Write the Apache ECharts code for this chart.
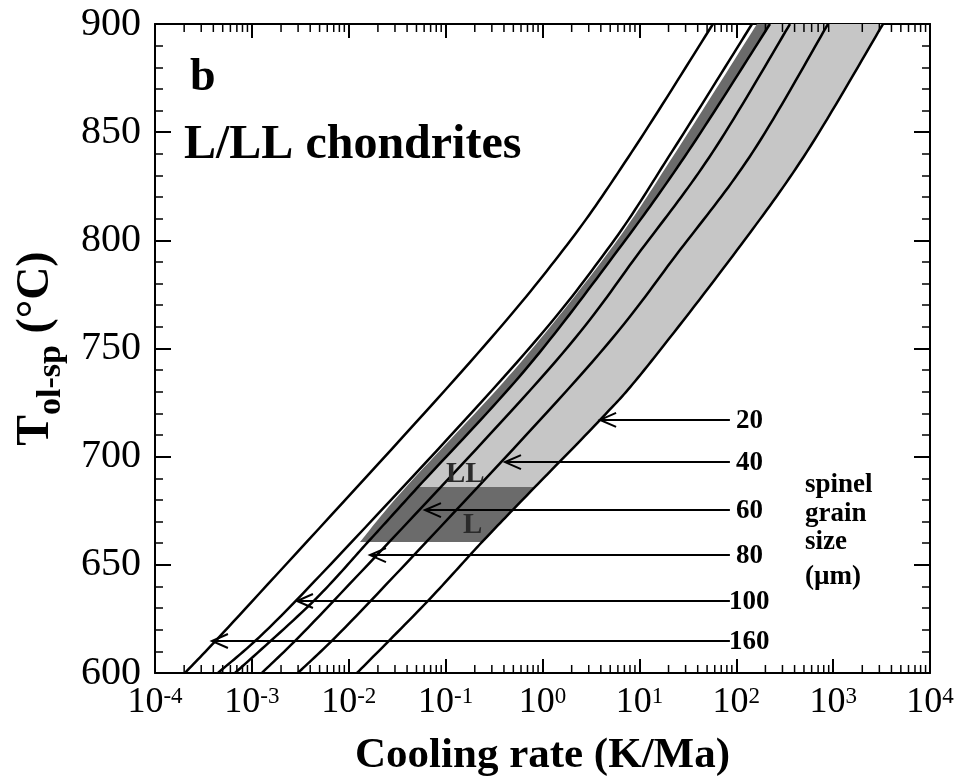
<!DOCTYPE html>
<html><head><meta charset="utf-8">
<script src="https://cdn.jsdelivr.net/npm/echarts@6/dist/echarts.min.js"></script>
<style>html,body{margin:0;padding:0;background:#fff}#c{width:961px;height:782px}</style>
</head><body><div id="c"></div>
<script>
// ---------- data (cooling rate in K/Ma, temperature in °C) ----------
const xTickExponents = [-4, -3, -2, -1, 0, 1, 2, 3, 4];
const yTicks = [600, 650, 700, 750, 800, 850, 900];
const grainSizes = ['20', '40', '60', '80', '100', '160'];

const T_levels = [600, 633, 740, 795.5, 841, 900];
const curve160 = [2.04e-4, 1.00e-3, 0.151, 1.63, 8.39, 57.5];
const curve100 = [4.47e-4, 2.79e-3, 0.462, 4.63, 21.7, 145.5];
const curve80T = [600, 633, 660.6, 686, 740, 795.5, 841, 900];
const curve80  = [6.70e-4, 4.28e-3, 0.01581, 0.0519, 0.659, 6.01, 31.8, 223];
const curve60  = [1.27e-3, 6.87e-3, 1.14, 10.4, 57.5, 359];
const curve40  = [2.99e-3, 0.01656, 2.75, 26.2, 149, 885];
const curve20T = [600, 633, 660.6, 686, 717, 740, 795.5, 841, 900];
const curve20  = [0.01216, 0.0646, 0.238, 0.837, 3.93, 11.2, 102, 537, 3273];

// left edge of the dark (LL) shaded strip
const darkEdgeT = [660.6, 686, 740, 795.5, 841, 900];
const darkEdge  = [0.01306, 0.0390, 0.508, 4.98, 23.9, 163.7];
const darkBoxT = [660.6, 686];   // lower/upper limit of the dark box

// arrows: temperature level, tip position (cooling rate), grain size label
const arrowT   = [717, 697.5, 675.3, 654.5, 633.3, 614.8];
const arrowTip = [3.93, 0.410, 0.0612, 0.01656, 2.92e-3, 3.87e-4];
const arrowTailRate = 86;

// ---------- chart ----------
const SERIF = "'Liberation Serif','Times New Roman',serif";
const curves = [
  [curve160, T_levels], [curve100, T_levels], [curve80, curve80T],
  [curve60, T_levels], [curve40, T_levels], [curve20, curve20T]
];
const minorTicks = [];
for (let d = -4; d < 4; d++) for (let k = 2; k <= 9; k++) minorTicks.push(k * Math.pow(10, d));

// smooth pixel path through the data points (Catmull-Rom)
function spline(p, samples) {
  const out = [], n = p.length;
  for (let i = 0; i < n - 1; i++) {
    const p0 = p[Math.max(i - 1, 0)], p1 = p[i], p2 = p[i + 1], p3 = p[Math.min(i + 2, n - 1)];
    for (let s = 0; s < samples; s++) {
      const t = s / samples, t2 = t * t, t3 = t2 * t;
      const f = k => 0.5 * (2 * p1[k] + (-p0[k] + p2[k]) * t + (2 * p0[k] - 5 * p1[k] + 4 * p2[k] - p3[k]) * t2 + (-p0[k] + 3 * p1[k] - 3 * p2[k] + p3[k]) * t3);
      out.push([f(0), f(1)]);
    }
  }
  out.push(p[n - 1]);
  return out;
}
function curvePx(api, rates, temps) {
  return spline(rates.map((r, i) => api.coord([r, temps[i]])), 20);
}
// part of a pixel path above (higher T = smaller y) a limit
function cutAbove(px, yLim) {
  const out = [];
  for (let i = 0; i < px.length; i++) {
    if (px[i][1] <= yLim) {
      if (i > 0 && px[i - 1][1] > yLim) {
        const a = px[i - 1], b = px[i], f = (a[1] - yLim) / (a[1] - b[1]);
        out.push([a[0] + (b[0] - a[0]) * f, yLim]);
      }
      out.push(px[i]);
    }
  }
  return out;
}

const chart = echarts.init(document.getElementById('c'));
const axisLine = { show: true, lineStyle: { color: '#000', width: 2 } };
const tickStyle = { color: '#000', width: 2 };
chart.setOption({
  animation: false,
  backgroundColor: '#fff',
  grid: { left: 155, right: 31, top: 24, bottom: 109 },
  xAxis: [{
    type: 'log', logBase: 10, min: 1e-4, max: 1e4, splitNumber: 8, position: 'bottom',
    axisLine, axisTick: { inside: true, length: 14, lineStyle: tickStyle },
    splitLine: { show: false },
    axisLabel: {
      margin: 12, color: '#000',
      formatter: v => {
        const e = Math.round(Math.log10(v));
        return xTickExponents.includes(e) ? '{b|10}{sup|' + e + '}' : '';
      },
      rich: {
        b: { fontFamily: SERIF, fontSize: 36, color: '#000', verticalAlign: 'bottom' },
        sup: { fontFamily: SERIF, fontSize: 23, color: '#000', verticalAlign: 'top' }
      }
    },
    name: 'Cooling rate (K/Ma)', nameLocation: 'middle', nameGap: 61,
    nameTextStyle: { fontFamily: SERIF, fontWeight: 'bold', fontSize: 43, color: '#000' }
  }, {
    type: 'log', logBase: 10, min: 1e-4, max: 1e4, splitNumber: 8, position: 'top',
    axisLine, axisTick: { inside: true, length: 14, lineStyle: tickStyle },
    axisLabel: { show: false }, splitLine: { show: false }
  }],
  yAxis: [{
    type: 'value', min: 600, max: 900, interval: 50, position: 'left',
    axisLine, axisTick: { inside: true, length: 16, lineStyle: tickStyle },
    minorTick: { show: true, splitNumber: 5, length: 8, lineStyle: { color: '#000', width: 1.5 } },
    splitLine: { show: false },
    axisLabel: {
      margin: 14, color: '#000', fontFamily: SERIF, fontSize: 40,
      formatter: v => yTicks.includes(v) ? String(v) : ''
    },
    name: '{t|T}{s|ol-sp}{t| (°C)}', nameLocation: 'middle', nameGap: 96, nameRotate: 90,
    nameTextStyle: {
      rich: {
        t: { fontFamily: SERIF, fontWeight: 'bold', fontSize: 46, color: '#000', verticalAlign: 'bottom' },
        s: { fontFamily: SERIF, fontWeight: 'bold', fontSize: 34, color: '#000', verticalAlign: 'bottom', padding: [0, 0, -9, 0] }
      }
    }
  }, {
    type: 'value', min: 600, max: 900, interval: 50, position: 'right',
    axisLine, axisTick: { inside: true, length: 16, lineStyle: tickStyle },
    minorTick: { show: true, splitNumber: 5, length: 8, lineStyle: { color: '#000', width: 1.5 } },
    splitLine: { show: false }, axisLabel: { show: false }
  }],
  series: [
    { // shaded bands
      type: 'custom', silent: true, z: 1, data: [[1, 750]],
      renderItem: (params, api) => {
        const yTop = api.coord([1, darkBoxT[1]])[1];
        const l3 = cutAbove(curvePx(api, curve80, curve80T), yTop);
        const l6 = cutAbove(curvePx(api, curve20, curve20T), yTop);
        const edge = curvePx(api, darkEdge, darkEdgeT);
        const light = l3.concat(l6.slice().reverse());
        const dark = edge.concat(l3.slice().reverse())
          .concat([api.coord([curve20[curve20T.indexOf(darkBoxT[1])], darkBoxT[1]]),
                   api.coord([curve20[curve20T.indexOf(darkBoxT[0])], darkBoxT[0]])]);
        return { type: 'group', children: [
          { type: 'polygon', shape: { points: light }, style: { fill: '#c6c6c6' } },
          { type: 'polygon', shape: { points: dark }, style: { fill: '#6b6b6b' } }
        ]};
      }
    },
    { // curves
      type: 'custom', silent: true, z: 5, clip: true,
      data: curves.map((c, i) => [1, 750, i]),
      renderItem: (params, api) => {
        const c = curves[api.value(2)];
        return { type: 'polyline', shape: { points: curvePx(api, c[0], c[1]) },
                 style: { stroke: '#000', lineWidth: 2.5, fill: null, lineJoin: 'round' } };
      }
    },
    { // log minor ticks, bottom and top
      type: 'custom', silent: true, z: 6,
      data: minorTicks.map(v => [v, 750]),
      renderItem: (params, api) => {
        const x = api.coord([api.value(0), 750])[0];
        const cs = params.coordSys;
        return { type: 'group', children: [
          { type: 'line', shape: { x1: x, y1: cs.y + cs.height, x2: x, y2: cs.y + cs.height - 8 }, style: { stroke: '#000', lineWidth: 1.5 } },
          { type: 'line', shape: { x1: x, y1: cs.y, x2: x, y2: cs.y + 8 }, style: { stroke: '#000', lineWidth: 1.5 } }
        ]};
      }
    },
    { // arrows with grain size labels
      type: 'custom', silent: true, z: 7,
      data: arrowT.map((t, i) => [arrowTip[i], t, i]),
      renderItem: (params, api) => {
        const tip = api.coord([api.value(0), api.value(1)]);
        const tail = api.coord([arrowTailRate, api.value(1)]);
        const label = grainSizes[api.value(2)];
        return { type: 'group', children: [
          { type: 'line', shape: { x1: tip[0] + 1, y1: tip[1], x2: tail[0], y2: tip[1] }, style: { stroke: '#000', lineWidth: 2 } },
          { type: 'polyline', shape: { points: [[tip[0] + 16, tip[1] - 7], [tip[0], tip[1]], [tip[0] + 16, tip[1] + 7]] }, style: { stroke: '#000', lineWidth: 2, fill: null } },
          { type: 'text', style: { text: label, x: tail[0] + (label.length > 2 ? -1 : 6), y: tip[1] + 1, align: 'left', verticalAlign: 'middle', fontFamily: SERIF, fontWeight: 'bold', fontSize: 27, fill: '#000' } }
        ]};
      }
    }
  ],
  graphic: [
    { type: 'text', left: 190, top: 55, style: { text: 'b', fontFamily: SERIF, fontWeight: 'bold', fontSize: 46, fill: '#000' } },
    { type: 'text', left: 184, top: 122, style: { text: 'L/LL chondrites', fontFamily: SERIF, fontWeight: 'bold', fontSize: 48, fill: '#000' } },
    { type: 'text', left: 805, top: 472, style: { text: 'spinel', fontFamily: SERIF, fontWeight: 'bold', fontSize: 27, fill: '#000' } },
    { type: 'text', left: 805, top: 501, style: { text: 'grain', fontFamily: SERIF, fontWeight: 'bold', fontSize: 27, fill: '#000' } },
    { type: 'text', left: 805, top: 529, style: { text: 'size', fontFamily: SERIF, fontWeight: 'bold', fontSize: 27, fill: '#000' } },
    { type: 'text', left: 805, top: 564, style: { text: '(µm)', fontFamily: SERIF, fontWeight: 'bold', fontSize: 27, fill: '#000' } },
    { type: 'text', left: 446, top: 460, z: 10, style: { text: 'LL', fontFamily: SERIF, fontWeight: 'bold', fontSize: 29, fill: '#2a2a2a' } },
    { type: 'text', left: 463, top: 511, z: 10, style: { text: 'L', fontFamily: SERIF, fontWeight: 'bold', fontSize: 29, fill: '#2a2a2a' } }
  ]
});
</script>
</body></html>
